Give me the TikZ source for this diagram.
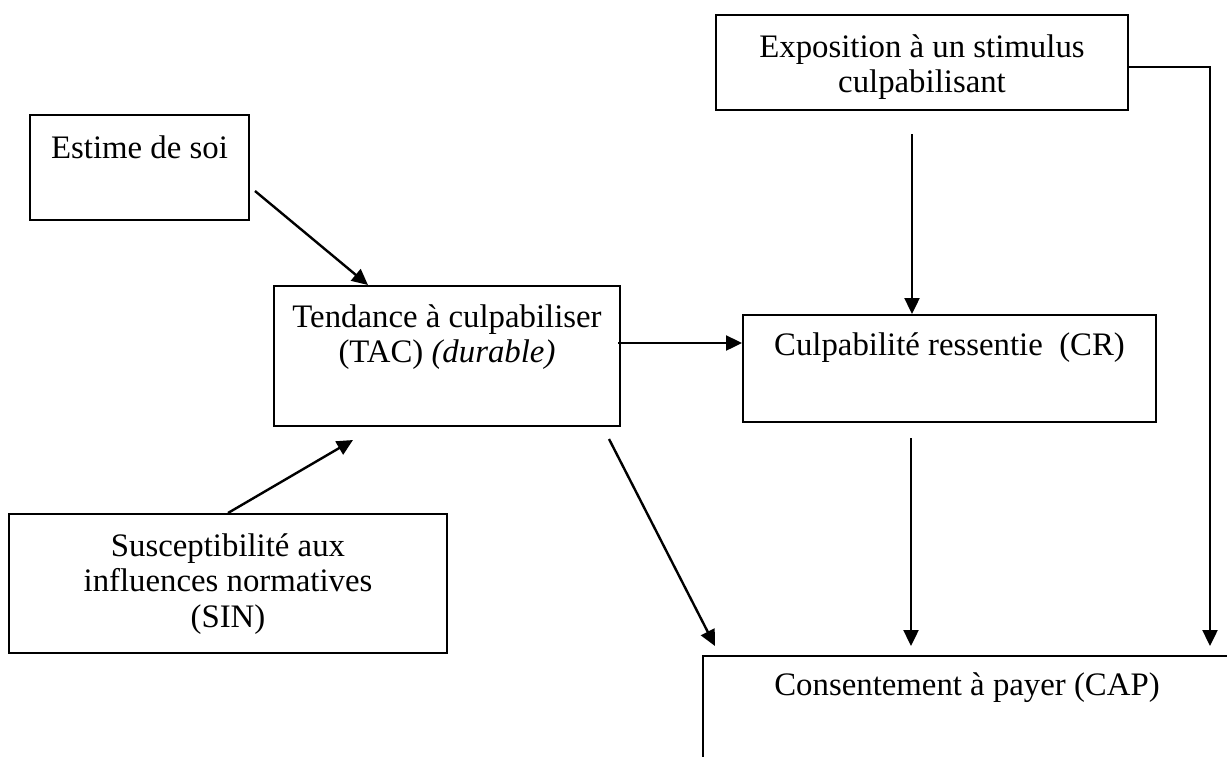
\documentclass[tikz,border=0pt]{standalone}
\usepackage{fontspec}
\setmainfont{Liberation Serif}
\usetikzlibrary{arrows.meta}
\tikzset{
  boite/.style={draw, line width=1pt, inner sep=0pt},
  texte/.style={align=center, inner sep=0pt, font=\fontsize{16.4pt}{17.8pt}\selectfont},
  fleche/.style={line width=1.2pt, -{Triangle[length=8pt,width=7.5pt]}}
}
\newcommand{\boite}[5]{\node[boite, minimum width=#4, minimum height=#5] (#1) at (#2,#3) {};}

\begin{document}
\begin{tikzpicture}[x=0.5pt,y=-0.5pt]
\useasboundingbox (0,0) rectangle (1227,756);
% boxes
\boite{expo}{922}{62.5}{206pt}{47.5pt}
\boite{estime}{139.5}{167.5}{109.5pt}{52.5pt}
\boite{tac}{447}{356}{173pt}{70pt}
\boite{cr}{949.5}{368.5}{206.5pt}{53.5pt}
\boite{sin}{228}{583.5}{219pt}{69.5pt}
\boite{cap}{967}{723}{264pt}{67pt}
% texts
\node[texte] (texpo) at (922,67) {Exposition à un stimulus\\culpabilisant};
\node[texte] (testime) at (139.5,147) {Estime de soi};
\node[texte] (ttac) at (447,337) {Tendance à culpabiliser\\(TAC) \textit{(durable)}};
\node[texte] (tcr) at (949.5,348) {Culpabilité ressentie~~(CR)};
\node[texte] (tsin) at (228,584) {Susceptibilité aux\\influences normatives\\(SIN)};
\node[texte] (tcap) at (967,688) {Consentement à payer (CAP)};
% arrows
\draw[fleche] ([shift={(5,-30)}]estime.south east) -- ([shift={(95,0)}]tac.north west);
\draw[fleche] (sin.north) -- ([shift={(80,13)}]tac.south west);
\draw[fleche] ([shift={(-3,-13)}]tac.east) -- ([shift={(0,-25.5)}]cr.west);
\draw[fleche] ([shift={(-10,23)}]expo.south) -- ([shift={(-37.5,0)}]cr.north);
\draw[fleche] ([shift={(-12,12)}]tac.south east) -- ([shift={(13,-9)}]cap.north west);
\draw[fleche] ([shift={(-38.5,15)}]cr.south) -- ([shift={(-56,-9)}]cap.north);
\draw[fleche] ([shift={(0,4.5)}]expo.east) -| ([shift={(-22,-9)}]cap.north east);
\end{tikzpicture}
\end{document}
